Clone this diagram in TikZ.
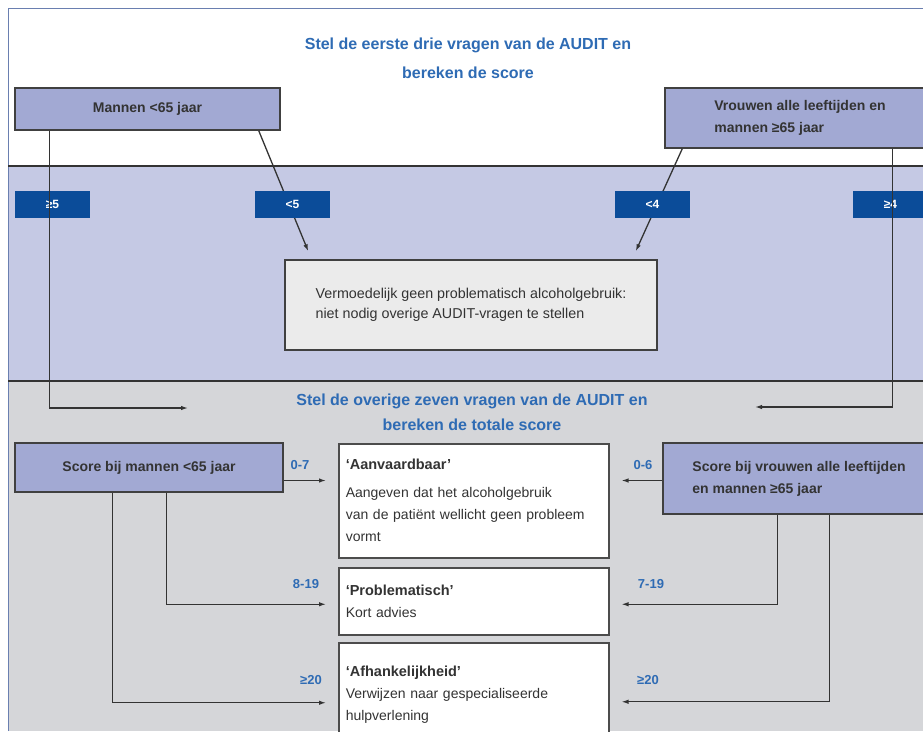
\documentclass[tikz,border=0pt]{standalone}
\usepackage{fontspec}
\setmainfont{Liberation Sans}
\usetikzlibrary{positioning, arrows.meta}
\definecolor{auditblue}{HTML}{2E6BB4}
\definecolor{tagblue}{HTML}{0B4C99}
\definecolor{boxblue}{HTML}{A2A9D3}
\definecolor{bandblue}{HTML}{C5C9E4}
\definecolor{bandgray}{HTML}{D5D6D9}
\definecolor{framecol}{HTML}{6A7FB0}
\definecolor{txt}{HTML}{333333}

\begin{document}
\begin{tikzpicture}[x=1pt,y=-1pt,
	groep/.style={draw=black!75, line width=1.5pt, fill=boxblue, text=txt, align=left, inner sep=0pt,
		font=\bfseries\fontsize{14}{22}\selectfont},
	tag/.style={fill=tagblue, text=white, minimum width=75pt, minimum height=27pt, inner sep=0pt,
		font=\bfseries\fontsize{12}{13}\selectfont},
	uitslag/.style={draw=black!70, line width=1.5pt, fill=white, text=txt, align=left, anchor=north west,
		text width=256pt, inner xsep=7pt, minimum width=270pt, font=\fontsize{14}{22}\selectfont},
	kop/.style={text=auditblue, align=center, font=\bfseries\fontsize{16}{29}\selectfont},
	score/.style={text=auditblue, font=\bfseries\fontsize{13}{15}\selectfont},
	pijl/.style={draw=black!80, line width=1.3pt, -{Latex[length=7pt,width=4.5pt]}}]
		\useasboundingbox (0,0) rectangle (923,731);
		% achtergrond
		\fill[white] (0,0) rectangle (923,731);
		\fill[bandblue] (8,166) rectangle (923,381);
		\fill[bandgray] (8,381) rectangle (923,731);
		\draw[framecol, line width=0.8pt] (8,731) -- (8,8) -- (923,8);
		\draw[black!80, line width=1.3pt] (8,166) -- (923,166);
		\draw[black!80, line width=1.3pt] (8,381) -- (923,381);
		% stap 1
		\node[kop] (kop1) at (468,58) {Stel de eerste drie vragen van de AUDIT en\\bereken de score};
		\node[groep, minimum width=265pt, minimum height=42pt] (mannen) at (147.5,109) {Mannen <65 jaar};
		\node[groep, minimum width=270pt, minimum height=60pt] (vrouwen) at (800,118) {Vrouwen alle leeftijden en\\mannen ≥65 jaar};
		\node[draw=black!75, line width=1.5pt, fill=black!8, text=txt, align=left, minimum width=372pt, minimum height=90pt,
			font=\fontsize{14.3}{20}\selectfont] (geen) at (471,305) {Vermoedelijk geen problematisch alcoholgebruik:\\niet nodig overige AUDIT-vragen te stellen};
		\coordinate (pijlL) at (188,408);
		\coordinate (pijlR) at (755,407);
		\draw[pijl] ([xshift=-22pt]mannen.south east) -- ([xshift=24pt,yshift=8pt]geen.north west);
		\draw[pijl] ([xshift=18pt]vrouwen.south west) -- ([xshift=-22pt,yshift=8pt]geen.north east);
		\node[tag] (ge5) at (52.5,204.5) {≥5};
		\node[tag] (lt5) at (292.5,204.5) {<5};
		\node[tag] (lt4) at (652.5,204.5) {<4};
		\node[tag] (ge4) at (890.5,204.5) {≥4};
		\draw[pijl] ([xshift=35pt]mannen.south west) |- (pijlL);
		\draw[pijl] ([xshift=228pt]vrouwen.south west) |- (pijlR);
		% stap 2
		\node[kop, font=\bfseries\fontsize{16}{25}\selectfont] (kop2) at (472,412) {Stel de overige zeven vragen van de AUDIT en\\bereken de totale score};
		\node[groep, minimum width=268pt, minimum height=49pt] (scoreM) at (149,467.5) {Score bij mannen <65 jaar};
		\node[groep, minimum width=272pt, minimum height=71pt] (scoreV) at (799,478.5) {Score bij vrouwen alle leeftijden\\en mannen ≥65 jaar};
		\node[uitslag, minimum height=114pt] (aanv) at (338,443) {{\bfseries\fontsize{14.5}{22}\selectfont ‘Aanvaardbaar’}\\[6pt]Aangeven dat het alcoholgebruik\\van de patiënt wellicht geen probleem\\vormt};
		\node[uitslag, minimum height=67pt] (probl) at (338,567) {{\bfseries\fontsize{14.5}{22}\selectfont ‘Problematisch’}\\Kort advies};
		\node[uitslag, minimum height=104pt] (afh) at (338,642) {{\bfseries\fontsize{14.5}{22}\selectfont ‘Afhankelijkheid’}\\Verwijzen naar gespecialiseerde\\hulpverlening};
		\draw[pijl, shorten >=12pt] ([yshift=-13pt]scoreM.east) -- ([yshift=-13pt]scoreM.east -| aanv.west);
		\draw[pijl, shorten >=12pt] ([xshift=152pt]scoreM.south west) |- ([yshift=-3pt]probl.west);
		\draw[pijl, shorten >=12pt] ([xshift=98pt]scoreM.south west) |- ([yshift=-8pt]afh.west);
		\draw[pijl, shorten >=12pt] ([yshift=-2pt]scoreV.west) -- ([yshift=-2pt]scoreV.west -| aanv.east);
		\draw[pijl, shorten >=12pt] ([xshift=115pt]scoreV.south west) |- ([yshift=-3pt]probl.east);
		\draw[pijl, shorten >=12pt] ([xshift=167pt]scoreV.south west) |- ([yshift=-7pt]afh.east);
		\node[score] (s07) at (300,465) {0-7};
		\node[score] (s819) at (306,584) {8-19};
		\node[score] (s20m) at (311,680) {≥20};
		\node[score] (s06) at (643,465) {0-6};
		\node[score] (s719) at (651,584) {7-19};
		\node[score] (s20v) at (648,680) {≥20};
\end{tikzpicture}
\end{document}
